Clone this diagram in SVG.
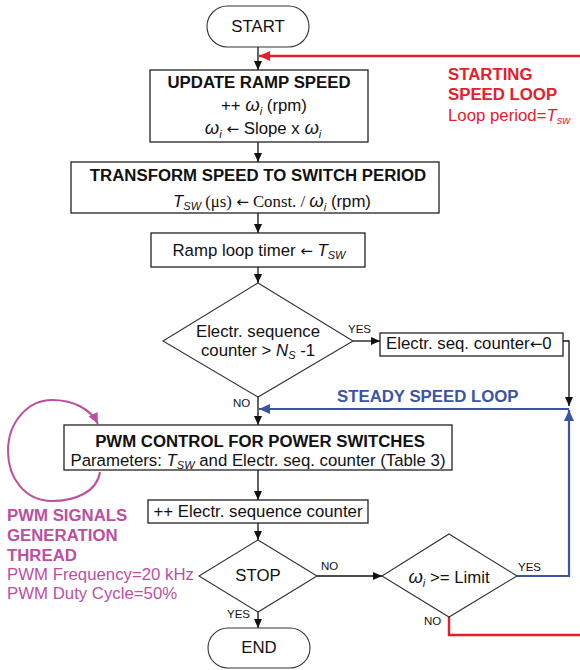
<svg xmlns="http://www.w3.org/2000/svg" width="580" height="670" viewBox="0 0 580 670">
  <style>
    text { font-family: "Liberation Sans", Arial, sans-serif; font-size: 16.8px; fill: #111; }
    .b { font-weight: bold; }
    .i { font-style: italic; }
    .sub { font-size: 11px; font-style: italic; }
    .serif { font-family: "Liberation Serif", "Times New Roman", serif; }
    .arr { font-family: "DejaVu Sans", sans-serif; font-size: 15px; }
    .lbl { font-size: 11.5px; }
    .box { fill: #fff; stroke: #222; stroke-width: 1.3; }
    .term { fill: #fff; stroke: #333; stroke-width: 1.1; }
    .dia { fill: #fff; stroke: #333; stroke-width: 1.1; }
    .flow { fill: none; stroke: #111; stroke-width: 1.3; }
    .red { fill: none; stroke: #E5202B; stroke-width: 2.4; }
    .blue { fill: none; stroke: #3A55A4; stroke-width: 2.2; }
    .purple { fill: none; stroke: #BC4FA0; stroke-width: 2; }
    .tr { fill: #E5202B; }
    .tb { fill: #3A55A4; }
    .tp { fill: #BC4FA0; }
  </style>
  <defs>
    <marker id="ah" markerUnits="userSpaceOnUse" markerWidth="10" markerHeight="9" refX="9" refY="4" orient="auto">
      <path d="M0,0 L9,4 L0,8 z" fill="#111"/>
    </marker>
    <marker id="ahRed" markerUnits="userSpaceOnUse" markerWidth="12" markerHeight="10" refX="11" refY="5" orient="auto">
      <path d="M0,0 L11,5 L0,10 z" fill="#E5202B"/>
    </marker>
    <marker id="ahBlue" markerUnits="userSpaceOnUse" markerWidth="12" markerHeight="10" refX="11" refY="5" orient="auto">
      <path d="M0,0 L11,5 L0,10 z" fill="#3A55A4"/>
    </marker>
    <marker id="ahPurple" markerUnits="userSpaceOnUse" markerWidth="12" markerHeight="10" refX="11" refY="5" orient="auto">
      <path d="M0,0 L11,5 L0,10 z" fill="#BC4FA0"/>
    </marker>
  </defs>

  <!-- connectors -->
  <g id="connectors">
    <path class="flow" d="M258,47 V70" marker-end="url(#ah)"/>
    <path class="flow" d="M258,142 V162" marker-end="url(#ah)"/>
    <path class="flow" d="M258,213 V233" marker-end="url(#ah)"/>
    <path class="flow" d="M258,267 V283" marker-end="url(#ah)"/>
    <path class="flow" d="M353,341 H380" marker-end="url(#ah)"/>
    <path class="flow" d="M563,341 H569 V406" marker-end="url(#ah)"/>
    <path class="flow" d="M258,397 V425" marker-end="url(#ah)"/>
    <path class="flow" d="M258,470 V500" marker-end="url(#ah)"/>
    <path class="flow" d="M258,523 V540" marker-end="url(#ah)"/>
    <path class="flow" d="M317,576 H382" marker-end="url(#ah)"/>
    <path class="flow" d="M258,612 V628" marker-end="url(#ah)"/>
    <!-- starting speed loop (red) -->
    <path class="red" d="M449,617 V635 H582"/>
    <path class="red" d="M582,56 H259" marker-end="url(#ahRed)"/>
    <!-- steady speed loop (blue) -->
    <path class="blue" d="M517,576 H569 V410" marker-end="url(#ahBlue)"/>
    <path class="blue" d="M569,409 H259" marker-end="url(#ahBlue)"/>
    <!-- PWM signals generation thread (purple) -->
    <path class="purple" d="M100,472 C97,492 75,501 52,501 C25,501 8,478 8,451 C8,422 28,400 52,400 C72,400 90,408 98,424" marker-end="url(#ahPurple)"/>
    <!-- branch labels -->
    <text class="lbl" x="348" y="333">YES</text>
    <text class="lbl" x="233" y="407">NO</text>
    <text class="lbl" x="321" y="570">NO</text>
    <text class="lbl" x="518" y="571">YES</text>
    <text class="lbl" x="424" y="625">NO</text>
    <text class="lbl" x="227" y="618">YES</text>
  </g>

  <g id="start">
    <rect class="term" x="207" y="6" width="102" height="41" rx="20.5"/>
    <text x="258" y="32" text-anchor="middle">START</text>
  </g>

  <g id="update-ramp">
    <rect class="box" x="150" y="70" width="218" height="72"/>
    <text class="b" x="259" y="88" text-anchor="middle">UPDATE RAMP SPEED</text>
    <text x="264" y="111" text-anchor="middle">++ <tspan class="i" font-size="18.5">ω</tspan><tspan class="sub" dy="4">i</tspan><tspan dy="-4"> (rpm)</tspan></text>
    <text x="263" y="134" text-anchor="middle"><tspan class="i" font-size="18.5">ω</tspan><tspan class="sub" dy="4">i</tspan><tspan class="arr" dy="-4"> ← </tspan>Slope x <tspan class="i" font-size="18.5">ω</tspan><tspan class="sub" dy="4">i</tspan></text>
  </g>

  <g id="starting-loop-label">
    <text class="b tr" x="448" y="80">STARTING</text>
    <text class="b tr" x="448" y="100">SPEED LOOP</text>
    <text class="tr" x="448" y="121" font-size="15">Loop period=<tspan class="i">T</tspan><tspan class="sub tr" dy="3">sw</tspan></text>
  </g>

  <g id="transform">
    <rect class="box" x="71" y="162" width="368" height="51"/>
    <text class="b" x="258" y="181" text-anchor="middle">TRANSFORM SPEED TO SWITCH PERIOD</text>
    <text x="272" y="207" text-anchor="middle"><tspan class="i">T</tspan><tspan class="sub" dy="3">SW</tspan><tspan class="serif" dy="-3"> (μs) </tspan><tspan class="arr">←</tspan><tspan class="serif"> Const. / </tspan><tspan class="i" font-size="18.5">ω</tspan><tspan class="sub" dy="4">i</tspan><tspan dy="-4"> (rpm)</tspan></text>
  </g>

  <g id="ramp-timer">
    <rect class="box" x="151" y="233" width="214" height="34"/>
    <text x="259" y="256" text-anchor="middle">Ramp loop timer <tspan class="arr">←</tspan> <tspan class="i">T</tspan><tspan class="sub" dy="3">SW</tspan></text>
  </g>

  <g id="seq-check">
    <polygon class="dia" points="258,283 353,341 258,397 163,341"/>
    <text x="258" y="337" text-anchor="middle">Electr. sequence</text>
    <text x="258" y="356" text-anchor="middle">counter &gt; <tspan class="i">N</tspan><tspan class="sub" dy="3">S</tspan><tspan dy="-3"> -1</tspan></text>
  </g>

  <g id="seq-reset">
    <rect class="box" x="380" y="333" width="183" height="23"/>
    <text x="386" y="349">Electr. seq. counter<tspan class="arr">←</tspan>0</text>
  </g>

  <g id="steady-loop-label">
    <text class="b tb" x="337" y="402">STEADY SPEED LOOP</text>
  </g>

  <g id="pwm-control">
    <rect class="box" x="64" y="425" width="388" height="45"/>
    <text class="b" x="260" y="447" text-anchor="middle">PWM CONTROL FOR POWER SWITCHES</text>
    <text x="258" y="466" text-anchor="middle">Parameters: <tspan class="i">T</tspan><tspan class="sub" dy="3">SW</tspan><tspan dy="-3"> and Electr. seq. counter (Table 3)</tspan></text>
  </g>

  <g id="pwm-thread-label">
    <text class="b tp" x="7" y="521">PWM SIGNALS</text>
    <text class="b tp" x="7" y="541">GENERATION</text>
    <text class="b tp" x="7" y="561">THREAD</text>
    <text class="tp" x="7" y="580" font-size="15.3">PWM Frequency=20 kHz</text>
    <text class="tp" x="7" y="599" font-size="15.3">PWM Duty Cycle=50%</text>
  </g>

  <g id="seq-increment">
    <rect class="box" x="148" y="500" width="220" height="23"/>
    <text x="258" y="517" text-anchor="middle">++ Electr. sequence counter</text>
  </g>

  <g id="stop-check">
    <polygon class="dia" points="258,540 317,576 258,612 199,576"/>
    <text x="258" y="581" text-anchor="middle">STOP</text>
  </g>

  <g id="limit-check">
    <polygon class="dia" points="449,534 517,576 449,617 382,576"/>
    <text x="449" y="583" text-anchor="middle"><tspan class="i" font-size="18.5">ω</tspan><tspan class="sub" dy="4">i</tspan><tspan dy="-4"> &gt;= Limit</tspan></text>
  </g>

  <g id="end">
    <rect class="term" x="208" y="628" width="102" height="40" rx="20"/>
    <text x="259" y="653" text-anchor="middle">END</text>
  </g>
</svg>
